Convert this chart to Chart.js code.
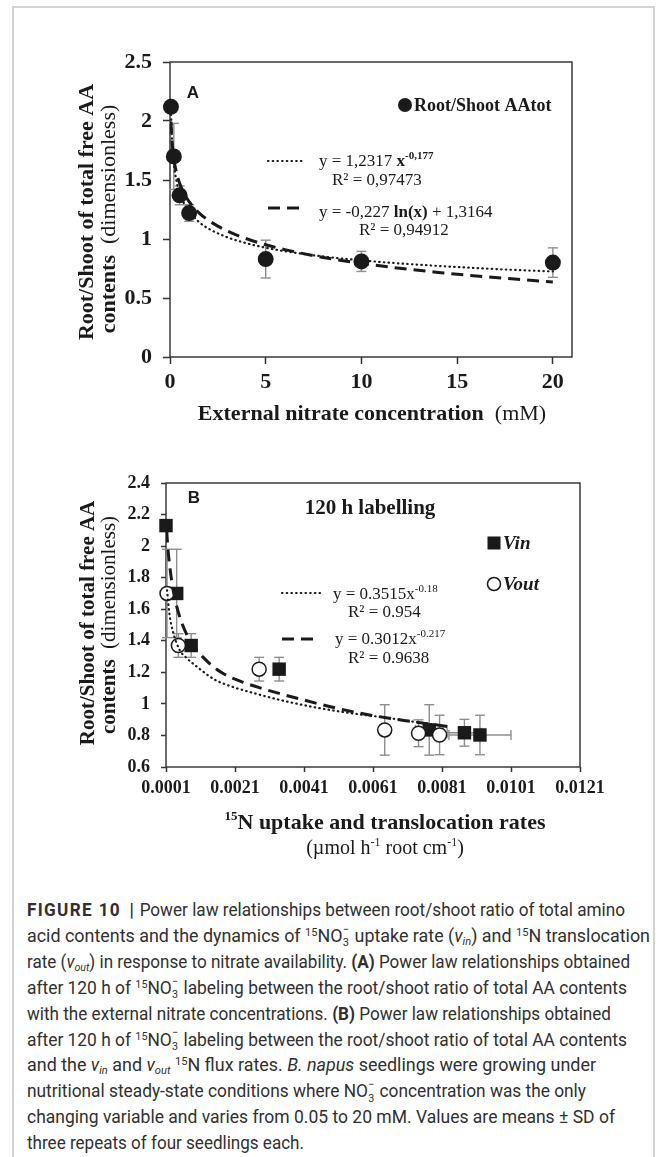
<!DOCTYPE html>
<html>
<head>
<meta charset="utf-8">
<script src="https://cdn.jsdelivr.net/npm/chart.js@4.4.1/dist/chart.umd.min.js"></script>
<style>
html,body{margin:0;padding:0;background:#fff;}
#page{position:relative;width:663px;height:1157px;overflow:hidden;background:#fff;}
#frame{position:absolute;left:12px;top:6px;width:643px;height:1400px;border:2px solid #d3d3d3;box-sizing:border-box;}
canvas{position:absolute;left:0;}
#cA{top:0;}
#cB{top:440px;}
.cap{position:absolute;left:27px;height:26px;line-height:26px;white-space:nowrap;
  font-family:"Liberation Sans Narrow","Roboto","Liberation Sans",sans-serif;font-size:18px;color:#303030;
  transform-origin:0 50%;}
.cap .fig{font-weight:bold;letter-spacing:1.4px;}
.cap .bar{font-weight:bold;margin:0 6px 0 9px;}
.cap sup{font-size:0.62em;vertical-align:0.55em;line-height:0;}
.cap sub{font-size:0.62em;vertical-align:-0.3em;line-height:0;}
.ion{display:inline-block;position:relative;width:0.42em;height:0;}
.ion .ip,.ion .ib{position:absolute;left:0.02em;line-height:1;font-size:0.62em;}
.ion .ip{bottom:0.62em;}
.ion .ib{bottom:-0.6em;}
</style>
</head>
<body>
<div id="page">
  <div id="frame"></div>
  <canvas id="cA" width="663" height="440"></canvas>
  <canvas id="cB" width="663" height="430"></canvas>
  <div class="cap"><span class="fig">FIGURE 10</span><span class="bar">|</span>Power law relationships between root/shoot ratio of total amino</div>
  <div class="cap">acid contents and the dynamics of <sup>15</sup>NO<span class="ion"><span class="ip">−</span><span class="ib">3</span></span> uptake rate (<i>v<sub>in</sub></i>) and <sup>15</sup>N translocation</div>
  <div class="cap">rate (<i>v<sub>out</sub></i>) in response to nitrate availability. <b>(A)</b> Power law relationships obtained</div>
  <div class="cap">after 120 h of <sup>15</sup>NO<span class="ion"><span class="ip">−</span><span class="ib">3</span></span> labeling between the root/shoot ratio of total AA contents</div>
  <div class="cap">with the external nitrate concentrations. <b>(B)</b> Power law relationships obtained</div>
  <div class="cap">after 120 h of <sup>15</sup>NO<span class="ion"><span class="ip">−</span><span class="ib">3</span></span> labeling between the root/shoot ratio of total AA contents</div>
  <div class="cap">and the <i>v<sub>in</sub></i> and <i>v<sub>out</sub></i> <sup>15</sup>N flux rates. <i>B. napus</i> seedlings were growing under</div>
  <div class="cap">nutritional steady-state conditions where NO<span class="ion"><span class="ip">−</span><span class="ib">3</span></span> concentration was the only</div>
  <div class="cap">changing variable and varies from 0.05 to 20 mM. Values are means ± SD of</div>
  <div class="cap">three repeats of four seedlings each.</div>
</div>
<script>
// ================= DATA =================
// Panel A : root/shoot ratio vs external nitrate (mM)
const nitrateA   = [0.05, 0.2, 0.5, 1, 5, 10, 20];
const ratioA     = [2.12, 1.70, 1.37, 1.22, 0.83, 0.81, 0.80];
const sdA        = [0, 0.28, 0.08, 0.07, 0.16, 0.085, 0.125];
// trend curves of panel A
const fitXA      = [0.05, 0.1, 0.2, 0.35, 0.5, 0.75, 1, 1.5, 2, 3, 4, 5, 6, 8, 10, 12, 14, 16, 18, 20];
const powerFitA  = [2.093, 1.852, 1.638, 1.483, 1.392, 1.296, 1.232, 1.146, 1.089, 1.014, 0.964, 0.926, 0.897, 0.852, 0.819, 0.793, 0.772, 0.754, 0.738, 0.725];
const logFitA    = [1.996, 1.839, 1.682, 1.555, 1.474, 1.382, 1.316, 1.224, 1.159, 1.067, 1.002, 0.951, 0.910, 0.844, 0.794, 0.752, 0.717, 0.687, 0.660, 0.636];
const xTicksA      = [0, 5, 10, 15, 20];
const xTickLabelsA = ['0', '5', '10', '15', '20'];
const yTicksA      = [0, 0.5, 1, 1.5, 2, 2.5];
const yTickLabelsA = ['0', '0.5', '1', '1.5', '2', '2.5'];

// Panel B : root/shoot ratio vs 15N fluxes
const vinX   = [0.0001, 0.00041, 0.00083, 0.00338, 0.00773, 0.00875, 0.00920];
const vinY   = [2.13, 1.70, 1.37, 1.22, 0.835, 0.817, 0.803];
const vinSd  = [0, 0.28, 0.075, 0.075, 0.16, 0.085, 0.125];
const vinSdX = [0, 0, 0, 0, 0.0004, 0.0005, 0.0009];
const voutX  = [0.00013, 0.00046, 0.0028, 0.00644, 0.00742, 0.00803];
const voutY  = [1.70, 1.37, 1.22, 0.835, 0.814, 0.803];
const voutSd = [0.28, 0.075, 0.075, 0.16, 0.085, 0.125];
// trend curves of panel B
const voutFitX = [0.00013, 0.0002, 0.0003, 0.0005, 0.0007, 0.001, 0.0015, 0.002, 0.0027, 0.0035, 0.0045, 0.0055, 0.0065, 0.0075, 0.0080];
const voutFitY = [1.72, 1.57, 1.46, 1.34, 1.29, 1.235, 1.155, 1.11, 1.065, 1.02, 0.975, 0.94, 0.912, 0.88, 0.865];
const vinFitX  = [0.00012, 0.00015, 0.0002, 0.0003, 0.0005, 0.0008, 0.0012, 0.0017, 0.0023, 0.003, 0.004, 0.005, 0.006, 0.007, 0.0083];
const vinFitY  = [2.10, 2.00, 1.89, 1.73, 1.55, 1.40, 1.29, 1.20, 1.14, 1.09, 1.03, 0.975, 0.93, 0.895, 0.856];
const xTicksB      = [0.0001, 0.0021, 0.0041, 0.0061, 0.0081, 0.0101, 0.0121];
const xTickLabelsB = ['0.0001', '0.0021', '0.0041', '0.0061', '0.0081', '0.0101', '0.0121'];
const yTicksB      = [0.6, 0.8, 1, 1.2, 1.4, 1.6, 1.8, 2, 2.2, 2.4];
const yTickLabelsB = ['0.6', '0.8', '1', '1.2', '1.4', '1.6', '1.8', '2', '2.2', '2.4'];

// caption line widths (px) measured on the reference
const capWidths = [598, 623, 603, 600, 584, 600, 569, 559, 588, 277];

// ================= HELPERS =================
const SERIF = '"Liberation Serif","Times New Roman",serif';
const SANS  = '"Liberation Sans",Arial,sans-serif';
const INK = '#1a1a1a';
const DOT = [0.5, 4.2];
const DASH = [12, 7];
function pts(xs, ys) { return xs.map((x, i) => ({x: x, y: ys[i]})); }
function F(size, weight, style, fam) { return (style || 'normal') + ' ' + (weight || 'normal') + ' ' + size + 'px ' + (fam || SERIF); }
function drawRich(ctx, x, y, segs, align) {
  let w = 0;
  segs.forEach(s => { ctx.font = s.f; w += ctx.measureText(s.t).width; });
  let cx = align === 'center' ? x - w / 2 : (align === 'right' ? x - w : x);
  ctx.textBaseline = 'alphabetic';
  ctx.textAlign = 'left';
  segs.forEach(s => { ctx.font = s.f; ctx.fillText(s.t, cx, y + (s.dy || 0)); cx += ctx.measureText(s.t).width; });
}
function vText(ctx, cx, cy, size, segs) {
  ctx.save();
  ctx.translate(cx, cy);
  ctx.rotate(-Math.PI / 2);
  drawRich(ctx, 0, 0.33 * size, segs, 'center');
  ctx.restore();
}
function sample(ctx, x1, x2, y, dash, w) {
  ctx.save();
  ctx.strokeStyle = INK; ctx.lineWidth = w; ctx.setLineDash(dash);
  ctx.lineCap = dash === DOT ? 'round' : 'butt';
  ctx.beginPath(); ctx.moveTo(x1, y); ctx.lineTo(x2, y); ctx.stroke();
  ctx.restore();
}

const frameAndErrors = {
  id: 'frameAndErrors',
  beforeDatasetsDraw(chart) {
    const ctx = chart.ctx, a = chart.chartArea, xs = chart.scales.x, ys = chart.scales.y;
    ctx.save();
    ctx.strokeStyle = '#3a3a3a'; ctx.lineWidth = 1.5;
    ctx.strokeRect(a.left, a.top, a.right - a.left, a.bottom - a.top);
    ctx.strokeStyle = '#8e8e8e'; ctx.lineWidth = 1.4;
    const seg = (x1, y1, x2, y2) => { ctx.beginPath(); ctx.moveTo(x1, y1); ctx.lineTo(x2, y2); ctx.stroke(); };
    chart.data.datasets.forEach(ds => {
      if (!ds.errY && !ds.errX) return;
      ds.data.forEach((p, i) => {
        const px = xs.getPixelForValue(p.x), py = ys.getPixelForValue(p.y);
        const ey = ds.errY ? ds.errY[i] : 0;
        if (ey) {
          const t = ys.getPixelForValue(p.y + ey), b = ys.getPixelForValue(p.y - ey);
          seg(px, t, px, b); seg(px - 5, t, px + 5, t); seg(px - 5, b, px + 5, b);
        }
        const ex = ds.errX ? ds.errX[i] : 0;
        if (ex) {
          const l = xs.getPixelForValue(p.x - ex), r = xs.getPixelForValue(p.x + ex);
          seg(l, py, r, py); seg(l, py - 5, l, py + 5); seg(r, py - 5, r, py + 5);
        }
      });
    });
    ctx.restore();
  }
};

function axisX(min, max, ticks, labels, size, tl, pad, h) {
  return {
    type: 'linear', min: min, max: max,
    afterBuildTicks: s => { s.ticks = ticks.map(v => ({value: v})); },
    afterFit: s => { s.height = h; },
    ticks: { callback: (v, i) => labels[i], font: {family: SERIF, size: size, weight: 'bold'}, color: INK, padding: pad, maxRotation: 0, autoSkip: false },
    grid: { display: true, drawOnChartArea: false, drawTicks: true, tickLength: tl, tickColor: '#333', tickWidth: 1.5 },
    border: { display: false }
  };
}
function axisY(min, max, ticks, labels, size, tl, pad, w) {
  return {
    type: 'linear', min: min, max: max,
    afterBuildTicks: s => { s.ticks = ticks.map(v => ({value: v})); },
    afterFit: s => { s.width = w; },
    ticks: { callback: (v, i) => labels[i], font: {family: SERIF, size: size, weight: 'bold'}, color: INK, padding: pad, autoSkip: false },
    grid: { display: true, drawOnChartArea: false, drawTicks: true, tickLength: tl, tickColor: '#333', tickWidth: 1.5 },
    border: { display: false }
  };
}
function fitLine(xs, ys, dash, w) {
  return { type: 'line', data: pts(xs, ys), showLine: true, pointRadius: 0, borderColor: INK, backgroundColor: INK,
           borderWidth: w, borderDash: dash, borderCapStyle: dash === DOT ? 'round' : 'butt',
           cubicInterpolationMode: 'monotone', fill: false, order: 0 };
}
function baseOpts(pad, sx, sy) {
  return { responsive: false, animation: false, events: [],
    layout: { padding: pad },
    plugins: { legend: { display: false }, tooltip: { enabled: false }, title: { display: false } },
    scales: { x: sx, y: sy } };
}

// ================= PANEL A =================
const annotA = {
  id: 'annotA',
  afterDraw(chart) {
    const ctx = chart.ctx;
    ctx.save();
    ctx.fillStyle = INK;
    drawRich(ctx, 193, 98, [{t: 'A', f: F(17, 'bold', 'normal', SANS)}], 'center');
    ctx.beginPath(); ctx.arc(405, 105, 7, 0, Math.PI * 2); ctx.fill();
    drawRich(ctx, 414, 111, [{t: 'Root/Shoot AAtot', f: F(18, 'bold')}], 'left');
    sample(ctx, 268, 305, 161, DOT, 2.2);
    drawRich(ctx, 319, 166, [{t: 'y = 1,2317 ', f: F(17)}, {t: 'x', f: F(17, 'bold')}, {t: '-0,177', f: F(11, 'bold'), dy: -7}], 'left');
    drawRich(ctx, 332, 185, [{t: 'R² = 0,97473', f: F(17)}], 'left');
    sample(ctx, 268, 301, 208, DASH, 3);
    drawRich(ctx, 319, 217, [{t: 'y = -0,227 ', f: F(17)}, {t: 'ln(x)', f: F(17, 'bold')}, {t: ' + 1,3164', f: F(17)}], 'left');
    drawRich(ctx, 359, 235, [{t: 'R² = 0,94912', f: F(17)}], 'left');
    drawRich(ctx, 372, 420, [{t: 'External nitrate concentration', f: F(22, 'bold')}, {t: '  (mM)', f: F(22)}], 'center');
    vText(ctx, 86, 212, 22, [{t: 'Root/Shoot of total free AA', f: F(22, 'bold')}]);
    vText(ctx, 108, 219, 22, [{t: 'contents', f: F(22, 'bold')}, {t: '  (dimensionless)', f: F(22)}]);
    ctx.restore();
  }
};

new Chart(document.getElementById('cA'), {
  type: 'scatter',
  data: { datasets: [
    fitLine(fitXA, powerFitA, DOT, 2.2),
    fitLine(fitXA, logFitA, DASH, 3),
    { label: 'Root/Shoot AAtot', data: pts(nitrateA, ratioA), errY: sdA, pointStyle: 'circle', pointRadius: 8,
      backgroundColor: INK, borderColor: INK, borderWidth: 0, order: 1, clip: false }
  ]},
  options: baseOpts({left: 0, top: 62, right: 91, bottom: 0},
    axisX(0, 21, xTicksA, xTickLabelsA, 22, 7, 5, 83),
    axisY(0, 2.5, yTicksA, yTickLabelsA, 22, 7, 11, 170)),
  plugins: [frameAndErrors, annotA]
});

// ================= PANEL B =================
const annotB = {
  id: 'annotB',
  afterDraw(chart) {
    const ctx = chart.ctx;
    ctx.save();
    ctx.fillStyle = INK;
    drawRich(ctx, 194, 63, [{t: 'B', f: F(17, 'bold', 'normal', SANS)}], 'center');
    drawRich(ctx, 370, 74, [{t: '120 h labelling', f: F(21, 'bold')}], 'center');
    ctx.fillRect(494 - 6.5, 103 - 6.5, 13, 13);
    drawRich(ctx, 503, 109, [{t: 'Vin', f: F(19, 'bold', 'italic')}], 'left');
    ctx.save(); ctx.strokeStyle = INK; ctx.lineWidth = 1.5; ctx.fillStyle = '#fff';
    ctx.beginPath(); ctx.arc(494, 144, 6.5, 0, Math.PI * 2); ctx.fill(); ctx.stroke(); ctx.restore();
    drawRich(ctx, 503, 150, [{t: 'Vout', f: F(19, 'bold', 'italic')}], 'left');
    sample(ctx, 282, 320, 153, DOT, 2.2);
    drawRich(ctx, 333, 159, [{t: 'y = 0.3515x', f: F(17)}, {t: '-0.18', f: F(11), dy: -7}], 'left');
    drawRich(ctx, 348, 177, [{t: 'R² = 0.954', f: F(17)}], 'left');
    sample(ctx, 282, 315, 199, DASH, 3);
    drawRich(ctx, 335, 204, [{t: 'y = 0.3012x', f: F(17)}, {t: '-0.217', f: F(11), dy: -7}], 'left');
    drawRich(ctx, 348, 223, [{t: 'R² = 0.9638', f: F(17)}], 'left');
    drawRich(ctx, 385, 389, [{t: '15', f: F(13, 'bold'), dy: -9}, {t: 'N uptake and translocation rates', f: F(22, 'bold')}], 'center');
    drawRich(ctx, 385, 414, [{t: '(µmol h', f: F(20)}, {t: '-1', f: F(12), dy: -8}, {t: ' root cm', f: F(20)}, {t: '-1', f: F(12), dy: -8}, {t: ')', f: F(20)}], 'center');
    vText(ctx, 87, 183, 21, [{t: 'Root/Shoot of total free AA', f: F(21, 'bold')}]);
    vText(ctx, 108, 185, 21, [{t: 'contents', f: F(21, 'bold')}, {t: '  (dimensionless)', f: F(21)}]);
    ctx.restore();
  }
};

new Chart(document.getElementById('cB'), {
  type: 'scatter',
  data: { datasets: [
    fitLine(voutFitX, voutFitY, DOT, 2.2),
    fitLine(vinFitX, vinFitY, DASH, 3),
    { label: 'Vin', data: pts(vinX, vinY), errY: vinSd, errX: vinSdX, pointStyle: 'rect', pointRadius: 9.5,
      backgroundColor: INK, borderColor: INK, borderWidth: 0, order: 2, clip: false },
    { label: 'Vout', data: pts(voutX, voutY), errY: voutSd, pointStyle: 'circle', pointRadius: 7,
      backgroundColor: '#fff', borderColor: INK, borderWidth: 1.5, order: 1, clip: false }
  ]},
  options: baseOpts({left: 0, top: 43, right: 83, bottom: 0},
    axisX(0.0001, 0.0121, xTicksB, xTickLabelsB, 18, 5, 6, 103),
    axisY(0.6, 2.4, yTicksB, yTickLabelsB, 18, 5, 11, 166)),
  plugins: [frameAndErrors, annotB]
});

// ================= CAPTION =================
(function () {
  const lines = Array.from(document.querySelectorAll('.cap'));
  const ws = lines.map(el => el.getBoundingClientRect().width);
  lines.forEach((el, i) => {
    el.style.top = (897 + 25.9 * i) + 'px';
    const f = capWidths[i] / ws[i];
    el.style.transform = 'scaleX(' + f.toFixed(4) + ')';
  });
})();
</script>
</body>
</html>
